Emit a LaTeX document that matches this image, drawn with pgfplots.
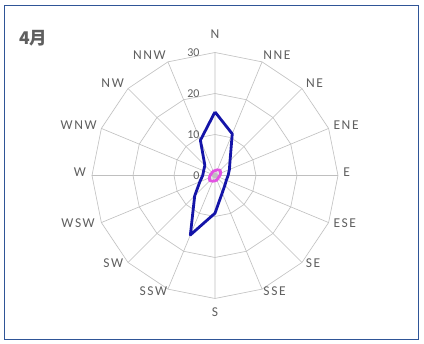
\documentclass[border=0pt]{standalone}
\usepackage{fontspec}
\setmainfont{Carlito}
\newfontfamily\cjk{Noto Sans CJK JP}
\newfontfamily\dirfont{Carlito}[LetterSpace=12]
\usepackage{pgfplots}
\pgfplotsset{compat=1.18}
\usepgfplotslibrary{polar}
\definecolor{gridgray}{RGB}{191,191,191}
\definecolor{labelgray}{RGB}{95,95,95}
\definecolor{frameblue}{RGB}{47,85,151}
\definecolor{seriesblue}{RGB}{20,20,168}
\definecolor{seriespink}{RGB}{226,84,226}

\begin{document}
\begin{tikzpicture}[x=1pt,y=1pt]
\path[fill=white] (-215,175.5) rectangle (209,-168.5);
\draw[frameblue, line width=0.9pt] (-210.5,170) rectangle (203,-164);
\node[anchor=base west, text=labelgray, font=\cjk\bfseries\fontsize{17.5}{17.5}\selectfont] at (-199.5,130.5) {4月};
\begin{polaraxis}[
  at={(0,0)}, anchor=origin,
  scale only axis, width=246pt, height=246pt,
  ymin=0, ymax=30,
  xtick={0,22.5,45,67.5,90,112.5,135,157.5,180,202.5,225,247.5,270,292.5,315,337.5},
  xticklabels={},
  ytick=\empty,
  xmajorgrids, ymajorgrids=false,
  major x grid style={gridgray, line width=0.6pt},
  axis line style={draw=none},
  major tick length=0pt,
  clip=false,
]
% polygonal rings of the radar grid
\addplot[gridgray, line width=0.6pt] coordinates {(0,10) (22.5,10) (45,10) (67.5,10) (90,10) (112.5,10) (135,10) (157.5,10) (180,10) (202.5,10) (225,10) (247.5,10) (270,10) (292.5,10) (315,10) (337.5,10) (360,10)};
\addplot[gridgray, line width=0.6pt] coordinates {(0,20) (22.5,20) (45,20) (67.5,20) (90,20) (112.5,20) (135,20) (157.5,20) (180,20) (202.5,20) (225,20) (247.5,20) (270,20) (292.5,20) (315,20) (337.5,20) (360,20)};
\addplot[gridgray, line width=0.6pt] coordinates {(0,30) (22.5,30) (45,30) (67.5,30) (90,30) (112.5,30) (135,30) (157.5,30) (180,30) (202.5,30) (225,30) (247.5,30) (270,30) (292.5,30) (315,30) (337.5,30) (360,30)};
% radius labels along the north spoke
\foreach \r in {0,10,20,30}{
  \edef\temp{\noexpand\node[anchor=east, text=labelgray, font=\noexpand\fontsize{12}{12}\noexpand\selectfont, xshift=-12pt] at (axis cs:90,\r) {\r};}
  \temp
}
% compass labels just outside the outer ring
\foreach \a/\t/\anc/\dx/\dy in {
  90/N/mid/0/16.5, 67.5/NNE/mid west/1/4.4, 45/NE/mid west/4/3.5, 22.5/ENE/mid west/4.7/1.7,
  0/E/mid west/5.3/1.2, -22.5/ESE/mid west/4.7/-2.2, -45/SE/mid west/3.7/-2.8, -67.5/SSE/mid west/1.2/-3.8,
  -90/S/mid/0/-15.7, -112.5/SSW/mid east/-0.5/-3.8, -135/SW/mid east/-4.7/-2.8, -157.5/WSW/mid east/-6.4/-2.2,
  180/W/mid east/-6/1.2, 157.5/WNW/mid east/-4.5/1.7, 135/NW/mid east/-4/3.5, 112.5/NNW/mid east/-2/4.4}{
  \edef\temp{\noexpand\node[anchor=\anc, inner sep=0pt, text=labelgray, font=\noexpand\dirfont\noexpand\fontsize{13.5}{14}\noexpand\selectfont, xshift=\dx pt, yshift=\dy pt] at (axis cs:\a,30) {\t};}
  \temp
}
% frequency by direction (N, NNE, ..., NNW)
\addplot[seriesblue, line width=2.8pt, line join=round] coordinates {
  (90,15.5) (67.5,11) (45,5.2) (22.5,3.8) (0,3.2) (-22.5,3.0) (-45,3.4) (-67.5,4.6)
  (-90,9.2) (-112.5,15.7) (-135,7.0) (-157.5,4.0) (-180,3.0) (-202.5,3.0) (-225,3.5) (-247.5,9.3) (-270,15.5)};
\addplot[seriespink, line width=2.8pt, line join=round] coordinates {
  (90,1.2) (67.5,1.5) (45,1.8) (22.5,1.5) (0,1.2) (-22.5,1.0) (-45,1.0) (-67.5,1.2)
  (-90,1.3) (-112.5,1.5) (-135,1.8) (-157.5,1.5) (-180,1.2) (-202.5,1.0) (-225,1.0) (-247.5,1.1) (-270,1.2)};
\end{polaraxis}
\end{tikzpicture}
\end{document}
